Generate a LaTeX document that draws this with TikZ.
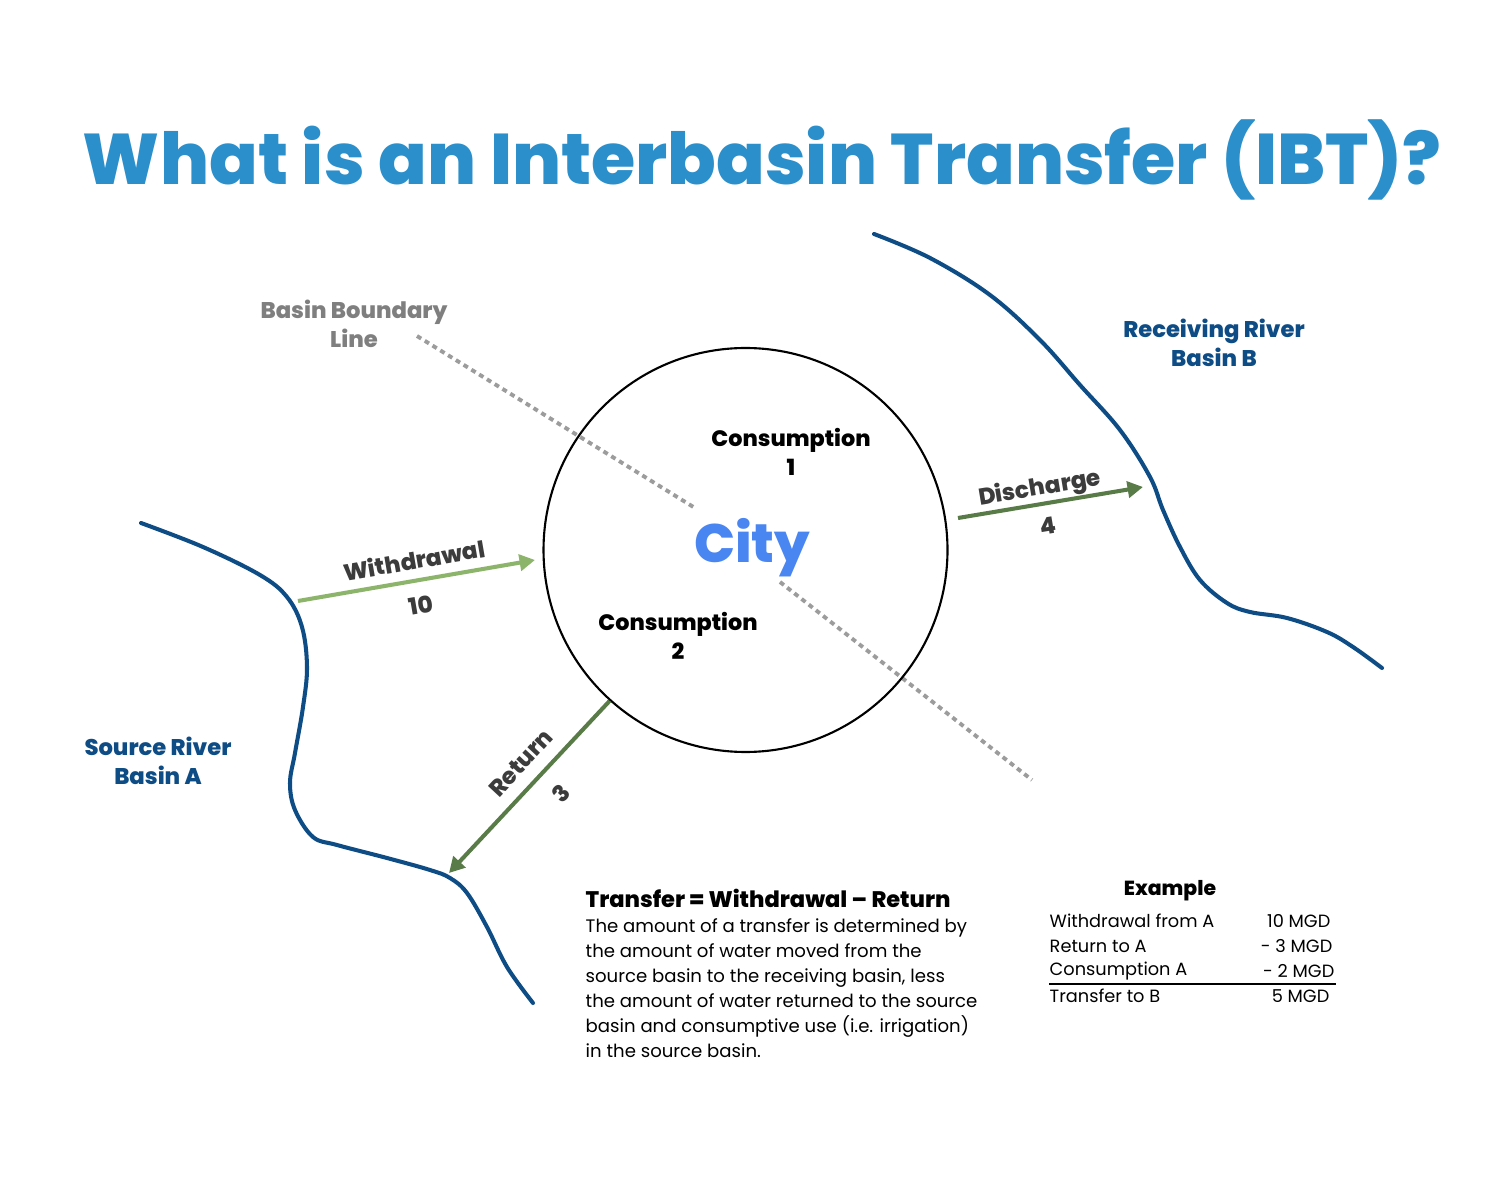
\documentclass[tikz,border=0pt]{standalone}
\usepackage{fontspec}
\setmainfont{Poppins}
\newfontfamily\heavy{Poppins}[UprightFont=* ExtraBold]
\usetikzlibrary{arrows.meta}

\definecolor{titleblue}{HTML}{2B8FCB}
\definecolor{cityblue}{HTML}{4A86F2}
\definecolor{riverblue}{HTML}{0E4C85}
\definecolor{lightgreen}{HTML}{8DB46B}
\definecolor{darkgreen}{HTML}{587B48}
\definecolor{labelgray}{HTML}{3C3C3C}
\definecolor{linegray}{HTML}{9C9C9C}
\definecolor{textgray}{HTML}{7F7F7F}

\begin{document}
\begin{tikzpicture}[x=0.1mm, y=-0.1mm,
		river/.style = {riverblue, line width=1.15pt, line cap=round},
		flow/.style = {line width=1.15pt, -{Triangle[length=4.4pt, width=4.6pt]}},
		boundary/.style = {linegray, line width=1.1pt, dash pattern=on 1.4pt off 1.2pt},
		lbl/.style = {font=\heavy\fontsize{6.6}{8.4}\selectfont, text=labelgray, inner sep=0},
		basin/.style = {font=\heavy\fontsize{6.45}{8.4}\selectfont, text=riverblue, align=center, inner sep=0},
		cons/.style = {font=\heavy\fontsize{6.35}{8.4}\selectfont, align=center, inner sep=0},
		tab/.style = {font=\fontsize{5.05}{6}\selectfont, inner sep=0}]

		\useasboundingbox (0,0) rectangle (1500,1192);
		\fill[white] (0,0) rectangle (1500,1192);

		\node[font=\heavy\fontsize{20.4}{25}\selectfont, text=titleblue, anchor=base, inner sep=0] (title) at (762,185) {What is an Interbasin Transfer (IBT)?};

		% rivers
		\draw[river] plot[smooth, tension=0.6] coordinates {(141,523) (203,547) (260,575) (287,597) (302,627) (307,667) (303,707) (295,753) (290,783) (295,810) (313,837) (337,845) (387,858) (430,870) (450,878) (467,893) (487,927) (507,967) (533,1003)};
		\draw[river] plot[smooth, tension=0.6] coordinates {(874,234) (930,258) (990,295) (1040,340) (1080,385) (1120,430) (1150,477) (1163,510) (1180,547) (1200,580) (1227,603) (1250,612) (1287,618) (1327,632) (1353,647) (1382,668)};

		% basin boundary
		\coordinate (bl-a) at (417,336);
		\coordinate (bl-b) at (695,508);
		\coordinate (bl-c) at (780,582);
		\coordinate (bl-d) at (1032,780);
		\draw[boundary] (bl-a) -- (bl-b) (bl-c) -- (bl-d);

		\node[draw, circle, line width=0.6pt, minimum size=40.4mm, inner sep=0] (city) at (745.5,550) {};
		\node[font=\heavy\fontsize{15.4}{19}\selectfont, text=cityblue, anchor=base, inner sep=0] (citylbl) at (752,563) {City};

		\node[cons] (cons1) at (791,452) {Consumption\\1};
		\node[cons] (cons2) at (678,636) {Consumption\\2};

		\node[basin, text=textgray] (bbl) at (354,324) {Basin Boundary\\Line};
		\node[basin] (basin-b) at (1214,343) {Receiving River\\Basin B};
		\node[basin] (basin-a) at (158,761) {Source River\\Basin A};

		% flows
		\coordinate (wd-a) at (298,601);
		\coordinate (wd-b) at (535,560);
		\coordinate (dc-a) at (958,518);
		\coordinate (dc-b) at (1143,487);
		\coordinate (rt-b) at (449,873);
		\draw[flow, lightgreen] (wd-a) -- (wd-b);
		\draw[flow, darkgreen] (dc-a) -- (dc-b);
		\draw[flow, darkgreen] (city.228) -- (rt-b);

		\node[lbl, rotate=9.8] (wd-lbl) at (414,560) {Withdrawal};
		\node[lbl, rotate=9.8] (wd-num) at (421,605) {10};
		\node[lbl, rotate=9.5] (dc-lbl) at (1040,489) {Discharge};
		\node[lbl, rotate=9.5] (dc-num) at (1048,526) {4};
		\node[lbl, rotate=47] (rt-lbl) at (521,763) {Return};
		\node[lbl, rotate=47] (rt-num) at (561,793) {3};

		% explanation
		\node[font=\heavy\fontsize{6.4}{8.4}\selectfont, anchor=base west, inner sep=0] (eq) at (585,907) {Transfer = Withdrawal – Return};
		\node[font=\fontsize{5.15}{7.1}\selectfont, align=left, anchor=north west, inner sep=0] (expl) at (585,918) {The amount of a transfer is determined by\\the amount of water moved from the\\source basin to the receiving basin, less\\the amount of water returned to the source\\basin and consumptive use (i.e. irrigation)\\in the source basin.};

		% example table
		\node[font=\heavy\fontsize{5.8}{7}\selectfont, inner sep=0] (ex) at (1170,891) {Example};
		\node[tab, anchor=west] (ex-w) at (1049,921) {Withdrawal from A};
		\node[tab, anchor=west] (ex-r) at (1049,946) {Return to A};
		\node[tab, anchor=west] (ex-c) at (1049,971) {Consumption A};
		\node[tab, anchor=west] (ex-t) at (1049,996) {Transfer to B};
		\node[tab, anchor=east] (ex-wv) at (1331,921) {10 MGD};
		\node[tab, anchor=east] (ex-rv) at (1333,946) {- 3 MGD};
		\node[tab, anchor=east] (ex-cv) at (1335,971) {- 2 MGD};
		\node[tab, anchor=east] (ex-tv) at (1330,996) {5 MGD};
		\draw[line width=0.55pt] (1049,984) -- (1336,984);
	\end{tikzpicture}
\end{document}
